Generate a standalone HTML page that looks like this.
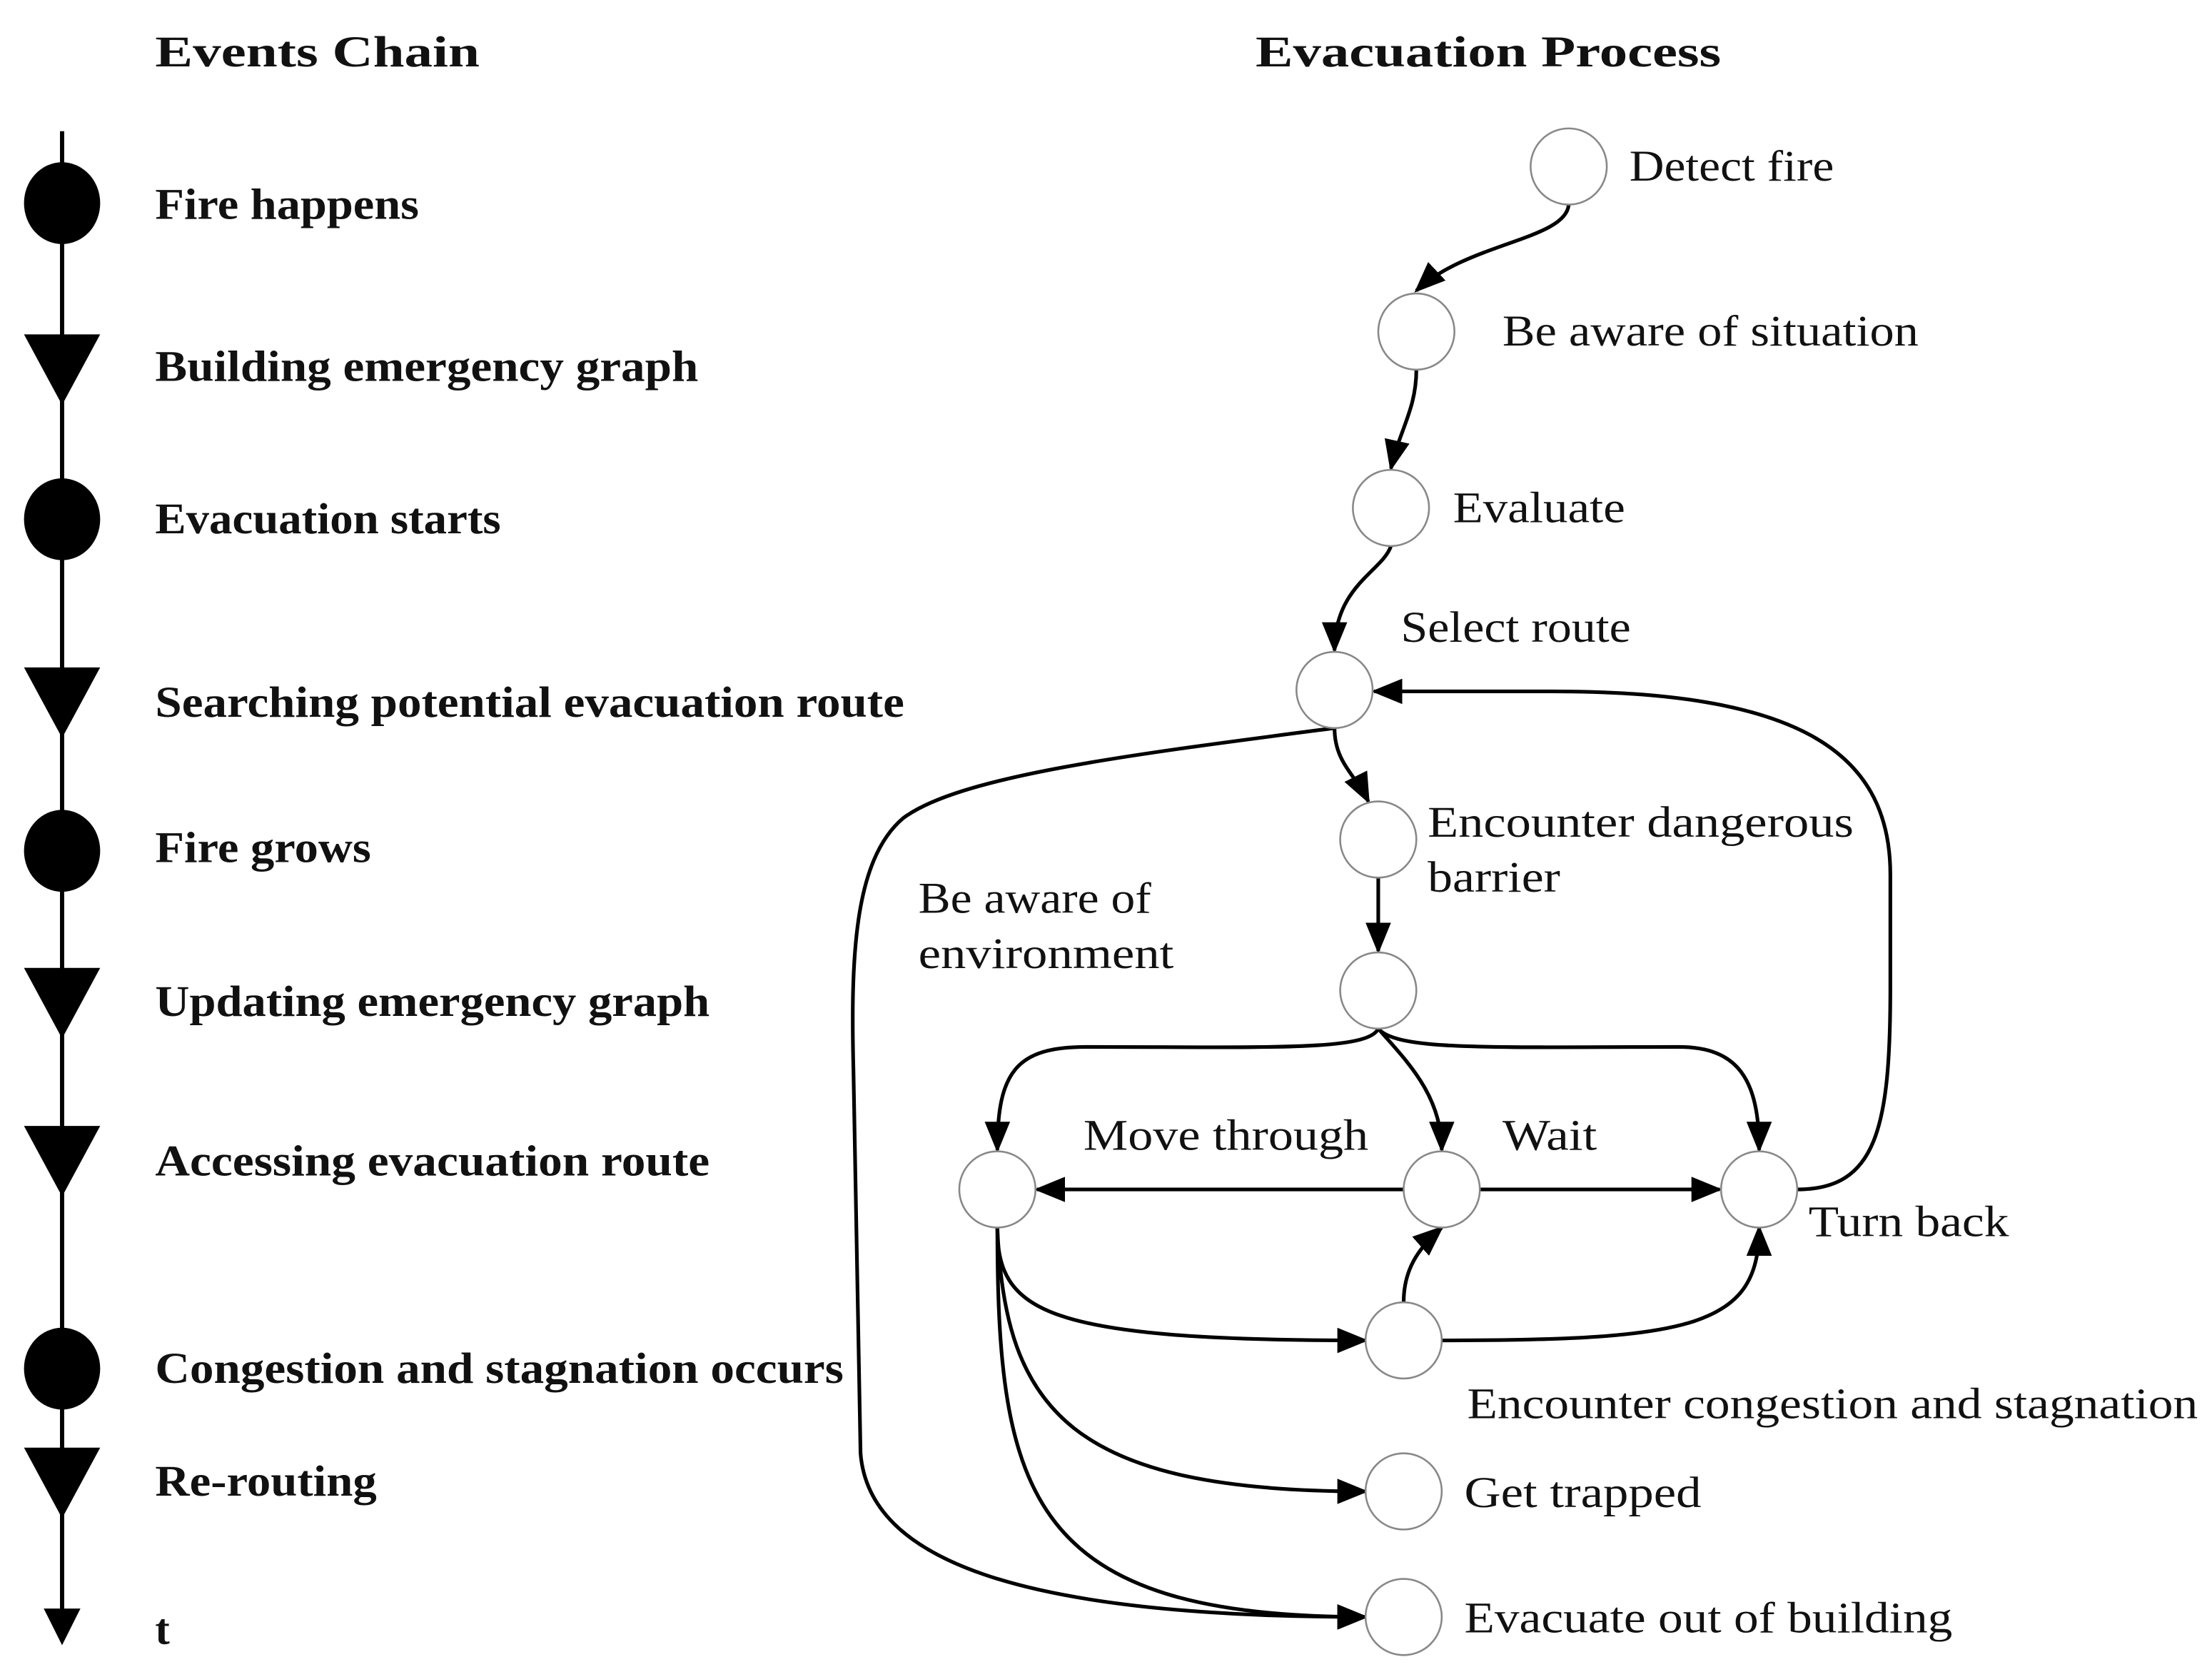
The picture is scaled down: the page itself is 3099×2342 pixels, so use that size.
<!DOCTYPE html>
<html><head><meta charset="utf-8"><style>
html,body{margin:0;padding:0;background:#fff}
svg{display:block}
.b{font-family:"Liberation Serif",serif;font-weight:bold;font-size:31px;fill:#111}
.r{font-family:"Liberation Serif",serif;font-size:31px;fill:#111}
.e{fill:none;stroke:#000;stroke-width:2.6}
.n{fill:#fff;stroke:#888;stroke-width:1.3}
</style></head><body>
<svg width="3099" height="2342" viewBox="0 0 1568 1185" xmlns="http://www.w3.org/2000/svg">
<defs><marker id="a" markerUnits="userSpaceOnUse" markerWidth="22" markerHeight="18" refX="20" refY="9" orient="auto"><path d="M0,0 L22,9 L0,18 Z" fill="#000"/></marker></defs>
<line x1="44" y1="93" x2="44" y2="1145" stroke="#000" stroke-width="3"/>
<path d="M31,1140 L57,1140 L44,1166 Z" fill="#000"/>
<g fill="#000">
<ellipse cx="44" cy="144" rx="27" ry="29"/><ellipse cx="44" cy="368" rx="27" ry="29"/>
<ellipse cx="44" cy="603" rx="27" ry="29"/><ellipse cx="44" cy="970" rx="27" ry="29"/>
<path d="M17,237 L71,237 L44,287 Z"/><path d="M17,473 L71,473 L44,523 Z"/>
<path d="M17,686 L71,686 L44,736 Z"/><path d="M17,798 L71,798 L44,848 Z"/>
<path d="M17,1026 L71,1026 L44,1076 Z"/>
</g>
<g lengthAdjust="spacingAndGlyphs">
<text class="b" x="110" y="47" textLength="230" lengthAdjust="spacingAndGlyphs">Events Chain</text>
<text class="b" x="110" y="155" textLength="187" lengthAdjust="spacingAndGlyphs">Fire happens</text>
<text class="b" x="110" y="270" textLength="385" lengthAdjust="spacingAndGlyphs">Building emergency graph</text>
<text class="b" x="110" y="378" textLength="245" lengthAdjust="spacingAndGlyphs">Evacuation starts</text>
<text class="b" x="110" y="508" textLength="531" lengthAdjust="spacingAndGlyphs">Searching potential evacuation route</text>
<text class="b" x="110" y="611" textLength="153" lengthAdjust="spacingAndGlyphs">Fire grows</text>
<text class="b" x="110" y="720" textLength="393" lengthAdjust="spacingAndGlyphs">Updating emergency graph</text>
<text class="b" x="110" y="833" textLength="393" lengthAdjust="spacingAndGlyphs">Accessing evacuation route</text>
<text class="b" x="110" y="980" textLength="488" lengthAdjust="spacingAndGlyphs">Congestion and stagnation occurs</text>
<text class="b" x="110" y="1060" textLength="157" lengthAdjust="spacingAndGlyphs">Re-routing</text>
<text class="b" x="110" y="1165">t</text>
<text class="b" x="890" y="47" textLength="330" lengthAdjust="spacingAndGlyphs">Evacuation Process</text>
</g>
<g class="e" marker-end="url(#a)">
<path d="M1112,145 C1110,170 1040,172 1004,206"/>
<path d="M1004,262 C1004,290 992,305 986,332"/>
<path d="M986,387 C980,405 946,415 946,461"/>
<path d="M946,516 C946,540 960,548 970,568"/>
<path d="M977,622 L977,674"/>
<path d="M977,729 C970,745 900,742 770,742 C720,742 707,760 707,815"/>
<path d="M977,729 C995,750 1022,775 1022,815"/>
<path d="M977,729 C990,745 1060,742 1190,742 C1232,742 1247,765 1247,815"/>
<path d="M995,843 L735,843"/>
<path d="M1049,843 L1219,843"/>
<path d="M1274,843 C1330,843 1340,800 1340,700 L1340,620 C1340,530 1270,490 1100,490 L974,490"/>
<path d="M946,516 C800,535 680,550 640,580 C605,610 603,680 605,760 L610,1030 C616,1105 720,1146 968,1146"/>
<path d="M707,870 C707,930 740,950 968,950"/>
<path d="M707,870 C712,1000 760,1057 968,1057"/>
<path d="M707,870 C707,1060 730,1146 968,1146"/>
<path d="M995,923 C995,900 1005,885 1022,870"/>
<path d="M1022,950 C1200,950 1247,940 1247,870"/>
</g>
<g class="n">
<ellipse cx="1112" cy="118" rx="27" ry="27"/><ellipse cx="1004" cy="235" rx="27" ry="27"/>
<ellipse cx="986" cy="360" rx="27" ry="27"/><ellipse cx="946" cy="489" rx="27" ry="27"/>
<ellipse cx="977" cy="595" rx="27" ry="27"/><ellipse cx="977" cy="702" rx="27" ry="27"/>
<ellipse cx="707" cy="843" rx="27" ry="27"/><ellipse cx="1022" cy="843" rx="27" ry="27"/>
<ellipse cx="1247" cy="843" rx="27" ry="27"/><ellipse cx="995" cy="950" rx="27" ry="27"/>
<ellipse cx="995" cy="1057" rx="27" ry="27"/><ellipse cx="995" cy="1146" rx="27" ry="27"/>
</g>
<text class="r" x="1155" y="128" textLength="145" lengthAdjust="spacingAndGlyphs">Detect fire</text>
<text class="r" x="1065" y="245" textLength="295" lengthAdjust="spacingAndGlyphs">Be aware of situation</text>
<text class="r" x="1030" y="370" textLength="122" lengthAdjust="spacingAndGlyphs">Evaluate</text>
<text class="r" x="993" y="455" textLength="163" lengthAdjust="spacingAndGlyphs">Select route</text>
<text class="r" x="1012" y="593" textLength="302" lengthAdjust="spacingAndGlyphs">Encounter dangerous</text>
<text class="r" x="1012" y="632" textLength="94" lengthAdjust="spacingAndGlyphs">barrier</text>
<text class="r" x="651" y="647" textLength="165" lengthAdjust="spacingAndGlyphs">Be aware of</text>
<text class="r" x="651" y="686" textLength="181" lengthAdjust="spacingAndGlyphs">environment</text>
<text class="r" x="768" y="815" textLength="202" lengthAdjust="spacingAndGlyphs">Move through</text>
<text class="r" x="1065" y="815" textLength="67" lengthAdjust="spacingAndGlyphs">Wait</text>
<text class="r" x="1282" y="876" textLength="142" lengthAdjust="spacingAndGlyphs">Turn back</text>
<text class="r" x="1040" y="1005" textLength="518" lengthAdjust="spacingAndGlyphs">Encounter congestion and stagnation</text>
<text class="r" x="1038" y="1068" textLength="168" lengthAdjust="spacingAndGlyphs">Get trapped</text>
<text class="r" x="1038" y="1157" textLength="346" lengthAdjust="spacingAndGlyphs">Evacuate out of building</text>
</svg>
</body></html>
